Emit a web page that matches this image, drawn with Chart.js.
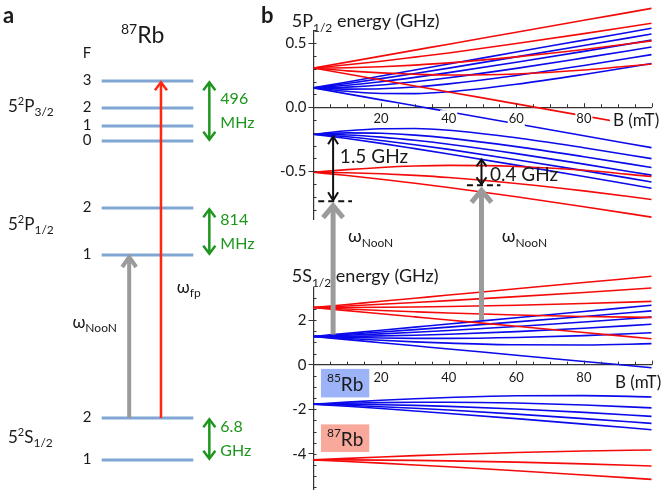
<!DOCTYPE html>
<html>
<head>
<meta charset="utf-8">
<script src="https://cdn.jsdelivr.net/npm/chart.js@4.4.0/dist/chart.umd.min.js"></script>
<style>
body { margin: 0; background: #fff; }
#wrap { position: relative; width: 665px; height: 500px; overflow: hidden; }
canvas { position: absolute; }
</style>
</head>
<body>
<div id="wrap">
<canvas id="cA" width="260" height="500" style="left:0;top:0;width:260px;height:500px"></canvas>
<canvas id="cS" width="405" height="245" style="left:260px;top:255px;width:405px;height:245px"></canvas>
<canvas id="cP" width="405" height="345" style="left:260px;top:0;width:405px;height:345px"></canvas>
</div>
<script>
// panel a : schematic level heights (87Rb)
var levelE = [0, 42, 205, 252, 319, 334, 352, 379];
var levelF = ['1', '2', '1', '2', '0', '1', '2', '3'];
var splitText = [['496', 'MHz'], ['814', 'MHz'], ['6.8', 'GHz']];

// panel b : magnetic field (mT) and energies (GHz)
var bField = [0, 10, 20, 30, 40, 60, 80, 100];
var p87 = [
  [0.306, 0.352, 0.399, 0.446, 0.492, 0.586, 0.679, 0.772],
  [0.306, 0.331, 0.359, 0.391, 0.424, 0.497, 0.575, 0.656],
  [0.306, 0.308, 0.316, 0.329, 0.346, 0.393, 0.451, 0.518],
  [0.306, 0.284, 0.268, 0.257, 0.251, 0.259, 0.290, 0.338],
  [0.306, 0.259, 0.212, 0.166, 0.119, 0.026, -0.068, -0.161],
  [-0.509, -0.488, -0.471, -0.460, -0.455, -0.463, -0.493, -0.542],
  [-0.509, -0.512, -0.520, -0.533, -0.550, -0.596, -0.654, -0.721],
  [-0.509, -0.534, -0.563, -0.594, -0.628, -0.700, -0.778, -0.859]
];
var p85 = [
  [0.151, 0.197, 0.244, 0.291, 0.337, 0.431, 0.524, 0.617],
  [0.151, 0.185, 0.223, 0.263, 0.305, 0.393, 0.482, 0.572],
  [0.151, 0.171, 0.199, 0.233, 0.270, 0.351, 0.436, 0.524],
  [0.151, 0.157, 0.173, 0.199, 0.230, 0.303, 0.385, 0.470],
  [0.151, 0.141, 0.144, 0.158, 0.182, 0.248, 0.326, 0.411],
  [0.151, 0.124, 0.107, 0.106, 0.120, 0.179, 0.256, 0.341],
  [0.151, 0.104, 0.057, 0.011, -0.036, -0.129, -0.223, -0.316],
  [-0.211, -0.184, -0.168, -0.166, -0.180, -0.239, -0.317, -0.402],
  [-0.211, -0.201, -0.204, -0.218, -0.242, -0.308, -0.387, -0.471],
  [-0.211, -0.217, -0.234, -0.259, -0.290, -0.363, -0.445, -0.531],
  [-0.211, -0.231, -0.260, -0.293, -0.330, -0.411, -0.496, -0.584],
  [-0.211, -0.245, -0.283, -0.324, -0.366, -0.453, -0.542, -0.633]
];
var s87 = [
  [2.563, 2.703, 2.843, 2.983, 3.123, 3.404, 3.684, 3.964],
  [2.563, 2.635, 2.711, 2.791, 2.875, 3.052, 3.240, 3.439],
  [2.563, 2.566, 2.575, 2.589, 2.609, 2.665, 2.742, 2.839],
  [2.563, 2.495, 2.432, 2.374, 2.320, 2.230, 2.163, 2.121],
  [2.563, 2.423, 2.283, 2.143, 2.003, 1.722, 1.442, 1.162],
  [-4.271, -4.204, -4.141, -4.082, -4.029, -3.939, -3.872, -3.830],
  [-4.271, -4.275, -4.283, -4.297, -4.317, -4.374, -4.451, -4.548],
  [-4.271, -4.344, -4.420, -4.500, -4.584, -4.760, -4.949, -5.147]
];
var s85 = [
  [1.265, 1.405, 1.545, 1.685, 1.825, 2.106, 2.386, 2.666],
  [1.265, 1.362, 1.464, 1.572, 1.684, 1.918, 2.161, 2.412],
  [1.265, 1.317, 1.380, 1.452, 1.532, 1.712, 1.914, 2.131],
  [1.265, 1.271, 1.291, 1.322, 1.365, 1.482, 1.634, 1.813],
  [1.265, 1.224, 1.196, 1.181, 1.179, 1.217, 1.305, 1.435],
  [1.265, 1.175, 1.094, 1.024, 0.965, 0.891, 0.884, 0.943],
  [1.265, 1.125, 0.985, 0.845, 0.705, 0.424, 0.144, -0.136],
  [-1.771, -1.681, -1.600, -1.530, -1.471, -1.397, -1.390, -1.449],
  [-1.771, -1.730, -1.702, -1.687, -1.685, -1.723, -1.811, -1.941],
  [-1.771, -1.777, -1.797, -1.828, -1.871, -1.988, -2.140, -2.319],
  [-1.771, -1.823, -1.886, -1.958, -2.038, -2.218, -2.420, -2.637],
  [-1.771, -1.868, -1.970, -2.078, -2.190, -2.424, -2.667, -2.918]
];

var FONT = 'Lato, "DejaVu Sans", sans-serif';
Chart.defaults.font.family = FONT;
Chart.defaults.color = '#1a1a1a';
var RED = 'rgb(245,10,10)', BLUE = 'rgb(10,10,235)', GREEN = '#1c961c', GRAY = '#9b9b9b', LEVEL = '#80a6d3';

function rich(ctx, x, y, parts, color) {
    ctx.save();
    ctx.fillStyle = color || '#1a1a1a';
    ctx.textAlign = 'left';
    ctx.textBaseline = 'alphabetic';
    parts.forEach(function (p) {
        ctx.font = (p[3] ? 'bold ' : '') + p[1] + 'px ' + FONT;
        ctx.fillText(p[0], x, y + (p[2] || 0));
        x += ctx.measureText(p[0]).width;
    });
    ctx.restore();
    return x;
}

function richWidth(ctx, parts) {
    var w = 0;
    ctx.save();
    parts.forEach(function (p) { ctx.font = p[1] + 'px ' + FONT; w += ctx.measureText(p[0]).width; });
    ctx.restore();
    return w;
}

function arrowV(ctx, x, yFrom, yTo, color, lw, hw, hh, both) {
    ctx.save();
    ctx.strokeStyle = color;
    ctx.lineWidth = lw;
    ctx.lineJoin = 'miter';
    var d = yFrom > yTo ? 1 : -1;
    ctx.beginPath();
    ctx.moveTo(x, both ? yFrom - d * lw * 0.5 : yFrom);
    ctx.lineTo(x, yTo + d * lw * 0.5);
    ctx.stroke();
    function head(tip, dir) {
        ctx.beginPath();
        ctx.moveTo(x - hw, tip + dir * hh);
        ctx.lineTo(x, tip);
        ctx.lineTo(x + hw, tip + dir * hh);
        ctx.stroke();
    }
    head(yTo + d * lw * 0.5, d);
    if (both) head(yFrom - d * lw * 0.5, -d);
    ctx.restore();
}

function dashH(ctx, x0, x1, y) {
    ctx.save();
    ctx.strokeStyle = '#111';
    ctx.lineWidth = 2;
    ctx.setLineDash([6, 4]);
    ctx.beginPath(); ctx.moveTo(x0, y); ctx.lineTo(x1, y); ctx.stroke();
    ctx.restore();
}

function bLabel(ctx, x, y) {
    ctx.save();
    ctx.font = '17px ' + FONT;
    var w = ctx.measureText('B (mT)').width;
    ctx.fillStyle = '#fff';
    ctx.fillRect(x - 3, y - 16, w + 8, 21);
    ctx.fillStyle = '#1a1a1a';
    ctx.fillText('B (mT)', x, y);
    ctx.restore();
}

// small inside ticks, like the original axes
function minorTicks(chart, step, kFrom, kTo) {
    var ctx = chart.ctx, xs = chart.scales.x, ys = chart.scales.y;
    var x0 = xs.getPixelForValue(0), y0 = ys.getPixelForValue(0);
    ctx.save();
    ctx.strokeStyle = '#333';
    ctx.lineWidth = 1;
    ctx.beginPath();
    for (var b = 5; b <= 100; b += 5) {
        var px = Math.round(xs.getPixelForValue(b)) + 0.5;
        ctx.moveTo(px, y0); ctx.lineTo(px, y0 - (b % 20 ? 3 : 4));
    }
    for (var k = kFrom; k <= kTo; k++) {
        if (k === 0) continue;
        var py = Math.round(ys.getPixelForValue(k * step)) + 0.5;
        ctx.moveTo(x0, py); ctx.lineTo(x0 + 3, py);
    }
    ctx.stroke();
    ctx.restore();
}

function curves(list, color) {
    return list.map(function (vals) {
        return {
            data: bField.map(function (b, i) { return { x: b, y: vals[i] }; }),
            borderColor: color, borderWidth: 1.6, pointRadius: 0,
            cubicInterpolationMode: 'monotone', clip: false, fill: false
        };
    });
}

function bScales(yMin, yMax, yStep, fmt, xPad) {
    return {
        x: {
            type: 'linear', min: 0, max: 100, position: { y: 0 },
            afterFit: function (s) { s.height = 0; },
            grid: { display: true, drawOnChartArea: false, drawTicks: false },
            border: { color: '#333', width: 1.2 },
            ticks: {
                stepSize: 20, padding: xPad, z: 1, maxRotation: 0, autoSkip: false,
                font: { size: 13 }, color: '#1a1a1a',
                showLabelBackdrop: true, backdropColor: '#fff', backdropPadding: 1,
                callback: function (v) { return (v > 0 && v < 100) ? String(v) : null; }
            }
        },
        y: {
            type: 'linear', min: yMin, max: yMax,
            afterFit: function (s) { s.width = 53.5; },
            grid: { drawOnChartArea: false, tickLength: 5, color: '#333' },
            border: { color: '#333', width: 1.2 },
            ticks: { stepSize: yStep, includeBounds: false, padding: 2, font: { size: 15 }, color: '#1a1a1a', callback: fmt }
        }
    };
}

var panelA = {
    id: 'panelA',
    afterDatasetsDraw: function (chart) {
        var ctx = chart.ctx, xs = chart.scales.x, ys = chart.scales.y;
        var X = function (v) { return xs.getPixelForValue(v); };
        var Y = function (v) { return ys.getPixelForValue(v); };

        rich(ctx, 3, 23, [['a', 22, 0, true]]);
        rich(ctx, 121, 43, [['87', 14, -9], ['Rb', 23, 0]]);

        ctx.save();
        ctx.fillStyle = '#1a1a1a';
        ctx.textAlign = 'center';
        ctx.textBaseline = 'middle';
        ctx.font = '15px ' + FONT;
        ctx.fillText('F', X(-0.16), 53);
        levelE.forEach(function (e, i) { ctx.fillText(levelF[i], X(-0.16), Y(e) - 1); });
        ctx.restore();

        rich(ctx, 8, Y(348), [['5', 17], ['2', 11, -7], ['P', 17], ['3/2', 12, 4]]);
        rich(ctx, 8, Y(230), [['5', 17], ['2', 11, -7], ['P', 17], ['1/2', 12, 4]]);
        rich(ctx, 8, Y(17), [['5', 17], ['2', 11, -7], ['S', 17], ['1/2', 12, 4]]);

        // hyperfine splittings
        [[7, 4], [3, 2], [1, 0]].forEach(function (pair, i) {
            var hi = levelE[pair[0]], lo = levelE[pair[1]];
            arrowV(ctx, X(1.175), Y(lo), Y(hi), GREEN, 2.5, 6, 8, true);
            var mid = Y((hi + lo) / 2);
            rich(ctx, X(1.295), mid - 7, [[splitText[i][0], 16]], GREEN);
            rich(ctx, X(1.295), mid + 17, [[splitText[i][1], 16]], GREEN);
        });

        arrowV(ctx, X(0.647), Y(levelE[1]), Y(levelE[7]), 'rgb(255,40,15)', 2.5, 6, 8, false);
        rich(ctx, X(0.82), Y(167), [['\u03c9', 17], ['fp', 12, 4]]);

        arrowV(ctx, X(0.30), Y(levelE[1]), Y(levelE[2]), GRAY, 4, 7, 10, false);
        rich(ctx, X(-0.32), Y(132), [['\u03c9', 17], ['NooN', 12, 4]]);
    }
};

var panelS = {
    id: 'panelS',
    afterDatasetsDraw: function (chart) {
        var ctx = chart.ctx, xs = chart.scales.x, ys = chart.scales.y;
        minorTicks(chart, 0.5, -11, 6);
        rich(ctx, 31.7, 26.7, [['5S', 18], ['1/2', 12, 5], [' energy (GHz)', 18]]);
        bLabel(ctx, 355, 133);

        [['85', '#9db3f8', -0.19, -1.47], ['87', '#f8a99b', -2.68, -3.92]].forEach(function (b) {
            var x0 = xs.getPixelForValue(2.2), x1 = xs.getPixelForValue(16.5);
            var y0 = ys.getPixelForValue(b[2]), y1 = ys.getPixelForValue(b[3]);
            ctx.fillStyle = b[1];
            ctx.fillRect(x0, y0, x1 - x0, y1 - y0);
            var parts = [[b[0], 12, -9], ['Rb', 19, 0]];
            var w = richWidth(ctx, parts);
            rich(ctx, (x0 + x1) / 2 - w / 2, (y0 + y1) / 2 + 7.5, parts);
        });
    }
};

var panelP = {
    id: 'panelP',
    afterDatasetsDraw: function (chart) {
        var ctx = chart.ctx, xs = chart.scales.x, ys = chart.scales.y;
        var X = function (v) { return xs.getPixelForValue(v); };
        var Y = function (v) { return ys.getPixelForValue(v); };
        minorTicks(chart, 0.1, -8, 6);
        rich(ctx, 1, 23, [['b', 22, 0, true]]);
        rich(ctx, 31.7, 27, [['5P', 18], ['1/2', 12, 5], [' energy (GHz)', 18]]);
        bLabel(ctx, 353, 126);

        // detunings
        arrowV(ctx, X(5.8), Y(-0.735), Y(-0.22), '#111', 2, 5, 8, true);
        dashH(ctx, X(1.4), X(11.4), Y(-0.735));
        rich(ctx, X(7.8), Y(-0.436), [['1.5 GHz', 19]]);
        arrowV(ctx, X(49.7), Y(-0.61), Y(-0.40), '#111', 2, 5, 7, true);
        dashH(ctx, X(45.4), X(55.3), Y(-0.61));
        rich(ctx, X(52.2), Y(-0.577), [['0.4 GHz', 19]]);

        // NooN drive arrows starting in the 5S1/2 panel
        var sy = chartS.scales.y, off = chartS.canvas.offsetTop - chart.canvas.offsetTop;
        arrowV(ctx, X(5.8), off + sy.getPixelForValue(1.35), Y(-0.75), GRAY, 5, 10, 12, false);
        arrowV(ctx, X(49.7), off + sy.getPixelForValue(2.0), Y(-0.63), GRAY, 5, 10, 12, false);
        rich(ctx, X(10.2), Y(-1.053), [['\u03c9', 18], ['NooN', 12, 5]]);
        rich(ctx, X(55.7), Y(-1.053), [['\u03c9', 18], ['NooN', 12, 5]]);
    }
};

var chartA = new Chart(document.getElementById('cA'), {
    type: 'line',
    data: {
        datasets: levelE.map(function (e) {
            return { data: [{ x: 0, y: e }, { x: 1, y: e }], borderColor: LEVEL, borderWidth: 3, pointRadius: 0, clip: false };
        })
    },
    options: {
        responsive: false, animation: false, events: [],
        layout: { padding: { left: 101.7, right: 66.7, top: 81, bottom: 40 } },
        plugins: { legend: { display: false }, tooltip: { enabled: false } },
        scales: {
            x: { type: 'linear', min: 0, max: 1, display: false },
            y: { type: 'linear', min: 0, max: 379, display: false }
        }
    },
    plugins: [panelA]
});

var chartS = new Chart(document.getElementById('cS'), {
    type: 'line',
    data: { datasets: curves(s87, RED).concat(curves(s85, BLUE)) },
    options: {
        responsive: false, animation: false, events: [],
        layout: { padding: { left: 0, right: 13.5, top: 33, bottom: 0 } },
        plugins: { legend: { display: false }, tooltip: { enabled: false } },
        scales: bScales(-5.58, 3.44, 2, function (v) { return String(v); }, 5)
    },
    plugins: [panelS]
});

var chartP = new Chart(document.getElementById('cP'), {
    type: 'line',
    data: { datasets: curves(p87, RED).concat(curves(p85, BLUE)) },
    options: {
        responsive: false, animation: false, events: [],
        layout: { padding: { left: 0, right: 13.5, top: 30.4, bottom: 125.2 } },
        plugins: { legend: { display: false }, tooltip: { enabled: false } },
        scales: bScales(-0.88, 0.6, 0.5, function (v) { return v.toFixed(1); }, 4)
    },
    plugins: [panelP]
});
</script>
</body>
</html>
